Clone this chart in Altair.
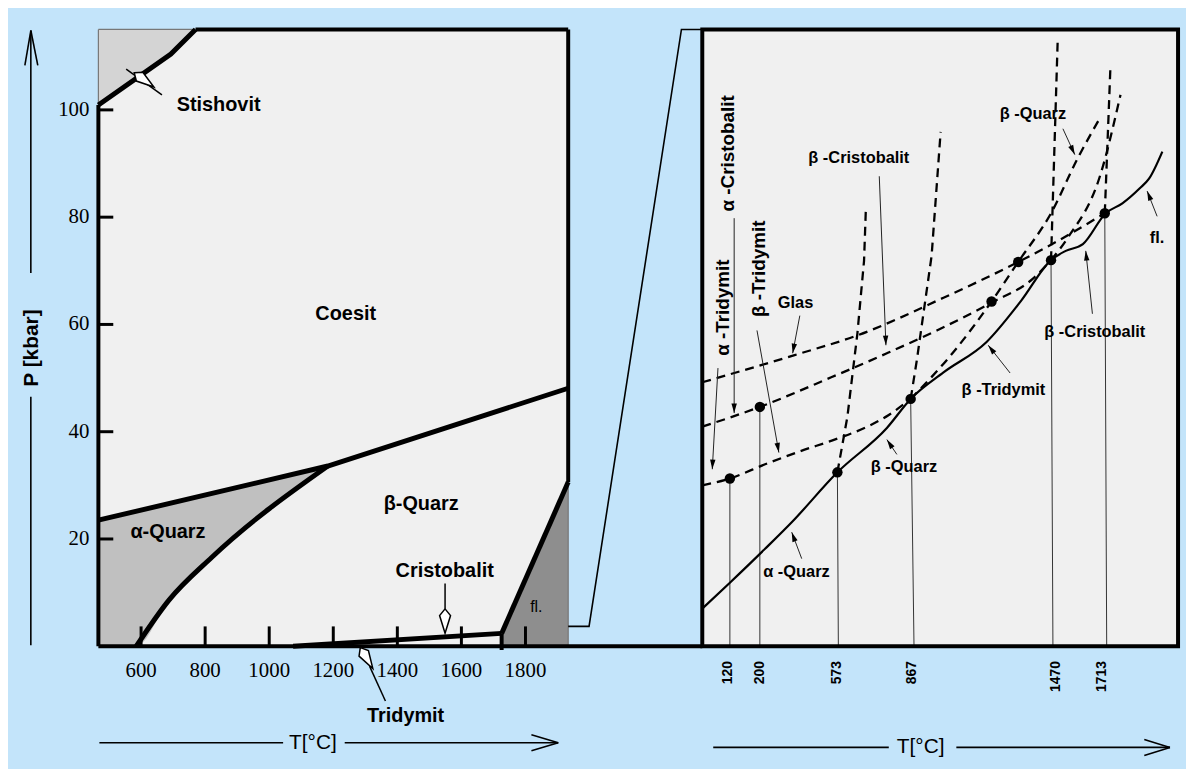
import altair as alt
import pandas as pd

BLUE = "#c3e4fa"
PANEL = "#f0f0f0"
SANS = "Liberation Sans, Arial, sans-serif"
SERIF = "Liberation Serif, Times New Roman, serif"

# ================= LEFT PANEL: T [°C] vs P [kbar] =================
frame_T = [466.7, 1933.4]
frame_P = [0, 115]

stish_T = [466.7, 693, 770]
stish_P = [100.9, 110.4, 115]

coes_T = [466.7, 1183, 1933.4]
coes_P = [23.5, 33.6, 48.1]

aq_T = [466.7, 585, 687, 821, 1183]
aq_low = [0, 0, 8.6, 16.6, 33.6]
aq_high = [23.5, 25.2, 26.6, 28.5, 33.6]

ab_T = [585, 687, 821, 1183]
ab_P = [0, 8.6, 16.6, 33.6]

trid_T = [1074.5, 1725.6]
trid_P = [0, 2.4]

melt_T = [1725.6, 1933.4]
melt_P = [2.4, 30.6]

T_ticks = [600, 800, 1000, 1200, 1400, 1600, 1800]
T_tick_labels = ["600", "800", "1000", "1200", "1400", "1600", "1800"]
P_ticks = [20, 40, 60, 80, 100]
P_tick_labels = ["20", "40", "60", "80", "100"]

left_names = ["Stishovit", "Coesit", "α-Quarz", "β-Quarz", "Cristobalit", "Tridymit"]
left_name_T = [841.9, 1238.8, 683.8, 1474.5, 1547.8, 1425.8]
left_name_P = [100.9, 62.0, 21.3, 26.5, 14.1, -13.0]

kite_T = [609.3, 1549.0, 1303.9]
kite_P = [105.6, 4.7, -2.2]
kite_angle = [306, 0, 329]
kite_lead_T1 = [553.5, 1549.0, 1313.2]
kite_lead_P1 = [107.6, 11.7, -3.7]
kite_lead_T2 = [665.1, 1549.0, 1362.8]
kite_lead_P2 = [102.8, 7.0, -10.2]

zoom_T = [1933.4, 1998.5, 2286.9, 2352.0]
zoom_P = [3.7, 3.7, 115, 115]

# ================= RIGHT PANEL: schematic units (0-100 of the panel) =================
solid_u = [0, 5.8, 13.2, 18.8, 28.4, 38.8, 43.8, 50.7, 59.7, 67.0, 73.3, 76.4, 80.0, 84.8, 88.3, 91.9, 93.9, 96.7]
solid_v = [6.1, 10.3, 15.8, 20.1, 28.2, 35.4, 40.1, 44.4, 49.3, 56.0, 62.6, 64.1, 65.2, 70.2, 71.8, 74.2, 75.8, 80.2]

glas_u = [0, 19.4, 32.6, 50.7, 66.4, 74.7, 84.6]
glas_v = [42.8, 47.2, 50.4, 56.5, 62.3, 65.7, 70.2]

crist_u = [0, 12.1, 27.1, 38.8, 49.3, 60.8, 69.5, 73.3]
crist_v = [35.6, 38.8, 43.6, 47.5, 51.2, 55.7, 59.6, 62.6]

tridr_u = [0, 5.8, 13.2, 20.5, 27.8, 34.7, 39.2, 43.8]
tridr_v = [26.1, 27.2, 29.5, 31.6, 33.5, 35.6, 37.5, 40.1]

trid_hi_u = [73.3, 76.8, 83.7, 87.9]
trid_hi_v = [62.6, 66.2, 76.5, 89.4]

quarz_u = [43.8, 52.8, 60.8, 66.4, 73.3, 78.9, 83.7]
quarz_v = [40.1, 47.7, 55.9, 62.3, 70.2, 79.1, 85.8]

v1_u = [28.4, 30.5, 32.6, 34.0, 34.4]
v1_v = [28.2, 37.2, 50.7, 62.5, 71.3]
v2_u = [43.8, 45.1, 48.2, 50.1]
v2_v = [40.1, 46.4, 63.3, 83.4]
v3_u = [73.3, 74.7]
v3_v = [62.6, 98.2]
v4_u = [84.6, 85.8]
v4_v = [70.2, 94.2]

dot_u = [5.8, 12.1, 28.4, 43.8, 60.8, 66.4, 73.3, 84.6]
dot_v = [27.2, 38.8, 28.2, 40.1, 55.9, 62.3, 62.6, 70.2]

temp_labels = ["120", "200", "573", "867", "1470", "1713"]
temp_u_base = [5.8, 12.1, 28.6, 44.5, 73.7, 85.0]
temp_u_top = [5.8, 12.1, 28.4, 43.8, 73.3, 84.6]
temp_v_top = [27.2, 38.8, 28.2, 40.1, 62.6, 70.2]
temp_label_u = [5.4, 12.1, 28.4, 44.1, 74.3, 84.1]

rot_names = ["α -Tridymit", "α -Cristobalit", "β -Tridymit"]
rot_u = [4.4, 5.4, 11.9]
rot_v = [54.9, 79.9, 61.2]

hz_names = ["Glas", "β -Cristobalit", "β -Quarz", "β -Quarz", "α -Quarz", "β -Tridymit", "β -Cristobalit", "fl."]
hz_u = [19.6, 32.9, 69.5, 42.4, 19.8, 63.3, 82.5, 95.6]
hz_v = [55.6, 79.1, 86.3, 29.0, 12.1, 41.5, 50.9, 66.2]

lead_u1 = [3.3, 6.7, 11.5, 20.5, 37.2, 75.8, 40.9, 20.9, 64.7, 82.0, 95.6]
lead_v1 = [45.1, 69.4, 51.2, 53.6, 76.2, 83.9, 31.1, 14.2, 44.3, 53.9, 69.7]
lead_u2 = [2.1, 6.7, 16.1, 19.0, 38.6, 78.3, 38.8, 18.8, 60.1, 80.6, 93.5]
lead_v2 = [28.7, 37.8, 31.4, 47.5, 48.8, 79.7, 33.5, 18.5, 48.8, 64.1, 73.8]
lead_angle = [183, 180, 170, 190, 178, 155, 326, 340, 322, 354, 338]

# ================= scales & helpers =================
XL = alt.Scale(domain=[466.7, 3837.3], nice=False, zero=False)
YL = alt.Scale(domain=[0, 115], nice=False, zero=False)
XR = alt.Scale(domain=[-126.93, 100], nice=False, zero=False)
YR = alt.Scale(domain=[0, 100], nice=False, zero=False)

KITE = "M0,-1 L0.45,-0.45 L0,1 L-0.45,-0.45 Z"
ARROW = "M0,0 L0.28,1 L-0.28,1 Z"


def xy(side):
    sx, sy = (XL, YL) if side == "L" else (XR, YR)
    return dict(x=alt.X("x:Q", scale=sx, axis=None), y=alt.Y("y:Q", scale=sy, axis=None))


def polyline(xs, ys, side, **mk):
    df = pd.DataFrame({"x": xs, "y": ys, "i": list(range(len(xs)))})
    return alt.Chart(df).mark_line(**mk).encode(**xy(side), order="i:Q")


def segs(x1, y1, x2, y2, side, **mk):
    df = pd.DataFrame({"x": x1, "y": y1, "x2": x2, "y2": y2})
    return alt.Chart(df).mark_rule(**mk).encode(**xy(side), x2="x2:Q", y2="y2:Q")


def texts(labels, xs, ys, side, **mk):
    df = pd.DataFrame({"x": xs, "y": ys, "t": labels})
    return alt.Chart(df).mark_text(**mk).encode(**xy(side), text="t:N")


def band(xs, lo, hi, side, **mk):
    df = pd.DataFrame({"x": xs, "y": lo, "y2": hi})
    return alt.Chart(df).mark_area(**mk).encode(**xy(side), y2="y2:Q")


def box(x1, x2, y1, y2, side, **mk):
    df = pd.DataFrame({"x": [x1], "x2": [x2], "y": [y1], "y2": [y2]})
    return alt.Chart(df).mark_rect(**mk).encode(**xy(side), x2="x2:Q", y2="y2:Q")


def symbols(xs, ys, angles, side, **mk):
    df = pd.DataFrame({"x": xs, "y": ys, "a": angles})
    return alt.Chart(df).mark_point(**mk).encode(**xy(side), angle=alt.Angle("a:Q", scale=None))


# ================= LEFT PANEL LAYERS =================
T0, T1 = frame_T
P0, P1 = frame_P
left_parts = [
    box(T0, T1, P0, P1, "L", color=PANEL),
    band(stish_T, stish_P, [P1] * len(stish_T), "L", color="#d4d4d4"),
    band(aq_T, aq_low, aq_high, "L", color="#c0c0c0", interpolate="monotone"),
    band(melt_T, [0, 0], melt_P, "L", color="#8e8e8e"),
    segs([T0, T0, T1], [stish_P[0], P1, 0], [T0, stish_T[-1], T1], [P1, P1, melt_P[-1]], "L",
         color="#777777", strokeWidth=1.2),
    polyline(stish_T, stish_P, "L", color="black", strokeWidth=5),
    polyline(coes_T, coes_P, "L", color="black", strokeWidth=5),
    polyline(ab_T, ab_P, "L", color="black", strokeWidth=5, interpolate="monotone"),
    polyline(trid_T, trid_P, "L", color="black", strokeWidth=5),
    polyline(melt_T, melt_P, "L", color="black", strokeWidth=5),
    segs([melt_T[0]], [-0.7], [melt_T[0]], [melt_P[0]], "L", color="black", strokeWidth=4),
    segs(T_ticks, [0] * len(T_ticks), T_ticks, [3.7] * len(T_ticks), "L", color="black", strokeWidth=3),
    segs([T0] * len(P_ticks), P_ticks, [513.2] * len(P_ticks), P_ticks, "L", color="black", strokeWidth=3),
    segs([T0, stish_T[-1], T1, T0], [0, P1, melt_P[-1], 0], [T0, T1, T1, zoom_T[-1]],
         [stish_P[0], P1, P1, 0], "L", color="black", strokeWidth=4),
    polyline(zoom_T, zoom_P, "L", color="black", strokeWidth=1.6),
    texts(T_tick_labels, T_ticks, [-4.6] * len(T_ticks), "L", font=SERIF, fontSize=21, color="black"),
    texts(P_tick_labels, [438.8] * len(P_ticks), P_ticks, "L", font=SERIF, fontSize=21, color="black",
          align="right"),
    texts(left_names, left_name_T, left_name_P, "L", font=SANS, fontSize=20, fontWeight="bold",
          color="black"),
    texts(["fl."], [1834], [7.4], "L", font=SANS, fontSize=16, color="black"),
    segs(kite_lead_T1, kite_lead_P1, kite_lead_T2, kite_lead_P2, "L", color="black", strokeWidth=1.5),
    symbols(kite_T, kite_P, kite_angle, "L", shape=KITE, size=600, filled=True, fill="white",
            stroke="black", strokeWidth=1.5, opacity=1),
    segs([469.8, 1235.7, 1818.6, 1818.6], [-18, -18, -16.5, -19.5], [1043.4, 1902.3, 1902.3, 1902.3],
         [-18, -18, -18, -18], "L", color="black", strokeWidth=1.6),
    texts(["T[°C]"], [1136.5], [-18], "L", font=SANS, fontSize=21, color="black"),
    segs([255.8, 237.2, 277.6, 255.8], [69.6, 108.3, 108.3, 0.2], [255.8, 255.8, 255.8, 255.8],
         [114.8, 114.8, 114.8, 46.5], "L", color="black", strokeWidth=1.6),
    texts(["P [kbar]"], [259], [55.6], "L", font=SANS, fontSize=21, fontWeight="bold", color="black",
          angle=270),
]
left = alt.layer(*left_parts)

# ================= RIGHT PANEL LAYERS =================
DASH = [9, 6]
right_parts = [
    box(0, 100, 0, 100, "R", color=PANEL),
    segs(temp_u_base, [0] * len(temp_u_base), temp_u_top, temp_v_top, "R", color="#333333", strokeWidth=1),
    polyline(glas_u, glas_v, "R", color="black", strokeWidth=2.3, strokeDash=DASH, interpolate="monotone"),
    polyline(crist_u, crist_v, "R", color="black", strokeWidth=2.3, strokeDash=DASH, interpolate="monotone"),
    polyline(tridr_u, tridr_v, "R", color="black", strokeWidth=2.3, strokeDash=DASH, interpolate="monotone"),
    polyline(trid_hi_u, trid_hi_v, "R", color="black", strokeWidth=2.3, strokeDash=DASH,
             interpolate="monotone"),
    polyline(quarz_u, quarz_v, "R", color="black", strokeWidth=2.3, strokeDash=DASH, interpolate="monotone"),
    polyline(v1_u, v1_v, "R", color="black", strokeWidth=2.3, strokeDash=DASH),
    polyline(v2_u, v2_v, "R", color="black", strokeWidth=2.3, strokeDash=DASH),
    polyline(v3_u, v3_v, "R", color="black", strokeWidth=2.3, strokeDash=DASH),
    polyline(v4_u, v4_v, "R", color="black", strokeWidth=2.3, strokeDash=DASH),
    polyline(solid_u, solid_v, "R", color="black", strokeWidth=2.2, interpolate="monotone"),
    alt.Chart(pd.DataFrame({"x": dot_u, "y": dot_v})).mark_circle(size=110, color="black", opacity=1)
    .encode(**xy("R")),
    segs(lead_u1, lead_v1, lead_u2, lead_v2, "R", color="#222222", strokeWidth=1),
    symbols(lead_u2, lead_v2, lead_angle, "R", shape=ARROW, size=380, filled=True, color="black",
            opacity=1),
    texts(hz_names, hz_u, hz_v, "R", font=SANS, fontSize=16.5, fontWeight="bold", color="black"),
    texts(rot_names, rot_u, rot_v, "R", font=SANS, fontSize=19, fontWeight="bold", color="black",
          angle=270),
    box(0, 100, 0, 100, "R", fillOpacity=0, stroke="black", strokeWidth=4),
    texts(temp_labels, temp_label_u, [-2.4] * len(temp_labels), "R", font=SANS, fontSize=14,
          fontWeight="bold", color="black", angle=270, align="right"),
    segs([2.3, 53.4, 92.9, 92.9], [-16.4, -16.4, -15.1, -17.7], [39.2, 98.3, 98.3, 98.3],
         [-16.4, -16.4, -16.4, -16.4], "R", color="black", strokeWidth=1.6),
    texts(["T[°C]"], [45.9], [-16.4], "R", font=SANS, fontSize=21, color="black"),
]
right = alt.layer(*right_parts)

chart = (
    alt.layer(left, right)
    .resolve_scale(x="independent", y="independent")
    .properties(
        width=1087,
        height=621,
        background=BLUE,
        padding={"left": 91, "top": 19, "right": 8, "bottom": 121},
        autosize=alt.AutoSizeParams(type="none"),
    )
    .configure_view(strokeWidth=0)
)

chart.save("out.html", embed_options={"renderer": "svg", "actions": False})
